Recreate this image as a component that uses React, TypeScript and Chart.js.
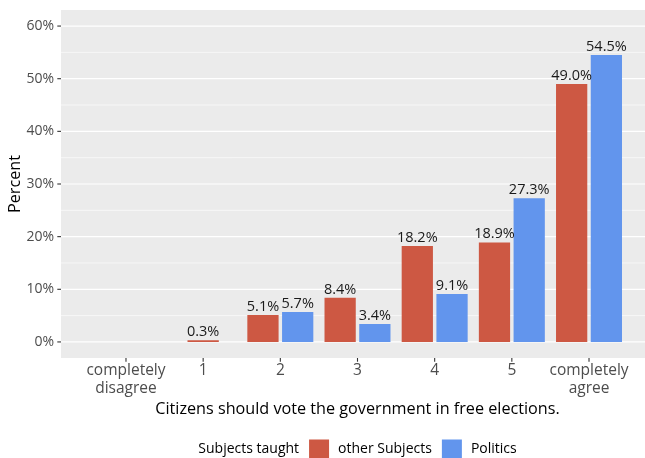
import React, { useEffect, useRef } from 'react';
import { Chart, registerables } from 'chart.js';

Chart.register(...registerables);

// ---- data ----
const categories: (string | string[])[] = [
  ['completely', 'disagree'],
  '1',
  '2',
  '3',
  '4',
  '5',
  ['completely', 'agree'],
];
const otherSubjects: (number | null)[] = [null, 0.3, 5.1, 8.4, 18.2, 18.9, 49.0];
const politics: (number | null)[] = [null, null, 5.7, 3.4, 9.1, 27.3, 54.5];
const seriesNames = ['other Subjects', 'Politics'];
const seriesColors = ['rgb(205,88,67)', 'rgb(98,149,237)'];
const yMajorTicks = [0, 10, 20, 30, 40, 50, 60];
const yMinorTicks = [5, 15, 25, 35, 45, 55];
const legendTitle = 'Subjects taught';
const xTitle = 'Citizens should vote the government in free elections.';
const yTitle = 'Percent';

const FONT = '"Open Sans", "DejaVu Sans", sans-serif';
const PANEL_LEFT = 61;
const PANEL_BG = '#EBEBEB';

const decorPlugin = {
  id: 'ggDecor',
  beforeDraw(chart: any) {
    const { ctx, chartArea, scales } = chart;
    const y = scales.y;
    ctx.save();
    ctx.fillStyle = PANEL_BG;
    ctx.fillRect(PANEL_LEFT, chartArea.top, chart.width - PANEL_LEFT, chartArea.bottom - chartArea.top);
    ctx.strokeStyle = '#FFFFFF';
    ctx.lineWidth = 0.6;
    for (const v of yMinorTicks) {
      const py = y.getPixelForValue(v);
      ctx.beginPath();
      ctx.moveTo(PANEL_LEFT, py);
      ctx.lineTo(chart.width, py);
      ctx.stroke();
    }
    ctx.lineWidth = 1.2;
    for (const v of yMajorTicks) {
      const py = y.getPixelForValue(v);
      ctx.beginPath();
      ctx.moveTo(PANEL_LEFT, py);
      ctx.lineTo(chart.width, py);
      ctx.stroke();
    }
    ctx.restore();
  },
  afterDatasetsDraw(chart: any) {
    const { ctx } = chart;
    ctx.save();
    ctx.font = `14.5px ${FONT}`;
    ctx.fillStyle = '#1A1A1A';
    ctx.textAlign = 'center';
    ctx.textBaseline = 'alphabetic';
    chart.data.datasets.forEach((ds: any, di: number) => {
      const meta = chart.getDatasetMeta(di);
      meta.data.forEach((el: any, i: number) => {
        const v = ds.data[i];
        if (v === null || v === undefined) return;
        ctx.fillText(v.toFixed(1) + '%', el.x, el.y - 4);
      });
    });
    ctx.restore();
  },
  afterDraw(chart: any) {
    const { ctx, chartArea, scales } = chart;
    const x = scales.x;
    const y = scales.y;
    ctx.save();
    // tick marks
    ctx.strokeStyle = '#333333';
    ctx.lineWidth = 1.1;
    for (const v of yMajorTicks) {
      const py = y.getPixelForValue(v);
      ctx.beginPath();
      ctx.moveTo(PANEL_LEFT - 3.7, py);
      ctx.lineTo(PANEL_LEFT, py);
      ctx.stroke();
    }
    categories.forEach((_, i) => {
      const px = x.getPixelForValue(i);
      ctx.beginPath();
      ctx.moveTo(px, chartArea.bottom);
      ctx.lineTo(px, chartArea.bottom + 3.7);
      ctx.stroke();
    });

    const centerX = (x.getPixelForValue(0) + x.getPixelForValue(categories.length - 1)) / 2;

    // x title
    ctx.fillStyle = '#000000';
    ctx.font = `16.2px ${FONT}`;
    ctx.textAlign = 'center';
    ctx.textBaseline = 'middle';
    ctx.fillText(xTitle, centerX, 409);

    // y title
    ctx.save();
    ctx.translate(15, (chartArea.top + chartArea.bottom) / 2);
    ctx.rotate(-Math.PI / 2);
    ctx.fillText(yTitle, 0, 0);
    ctx.restore();

    // legend
    ctx.font = `14px ${FONT}`;
    ctx.textAlign = 'left';
    ctx.textBaseline = 'middle';
    const box = 20;
    const gapTitle = 10;
    const gapBoxText = 9;
    const gapItem = 10;
    const wTitle = ctx.measureText(legendTitle).width;
    const wItems = seriesNames.map((n) => ctx.measureText(n).width);
    let total = wTitle;
    wItems.forEach((w, i) => {
      total += (i === 0 ? gapTitle : gapItem) + box + gapBoxText + w;
    });
    let lx = centerX - total / 2;
    const ly = 449.5;
    ctx.fillStyle = '#000000';
    ctx.fillText(legendTitle, lx, ly);
    lx += wTitle;
    seriesNames.forEach((n, i) => {
      lx += i === 0 ? gapTitle : gapItem;
      ctx.fillStyle = seriesColors[i];
      ctx.fillRect(lx, ly - box / 2, box, box);
      lx += box + gapBoxText;
      ctx.fillStyle = '#000000';
      ctx.fillText(n, lx, ly);
      lx += wItems[i];
    });
    ctx.restore();
  },
};

export default function App() {
  const canvasRef = useRef<HTMLCanvasElement | null>(null);

  useEffect(() => {
    const canvas = canvasRef.current;
    if (!canvas) return;
    const chart = new Chart(canvas, {
      type: 'bar',
      data: {
        labels: categories as any,
        datasets: [
          {
            label: seriesNames[0],
            data: otherSubjects as any,
            backgroundColor: seriesColors[0],
            borderWidth: 0,
          },
          {
            label: seriesNames[1],
            data: politics as any,
            backgroundColor: seriesColors[1],
            borderWidth: 0,
          },
        ],
      },
      options: {
        responsive: false,
        animation: false,
        devicePixelRatio: 1,
        layout: { padding: { left: 0, right: 17.4, top: 10, bottom: 0 } },
        datasets: {
          bar: {
            categoryPercentage: 0.9,
            barPercentage: 0.9,
            skipNull: true,
            maxBarThickness: 31.3,
          },
        },
        plugins: {
          legend: { display: false },
          tooltip: { enabled: false },
        },
        scales: {
          x: {
            type: 'category',
            offset: true,
            grid: { display: false, drawTicks: false, tickLength: 0 },
            border: { display: false },
            ticks: {
              color: '#4D4D4D',
              font: { family: FONT, size: 15.5, lineHeight: 1.15 },
              padding: 4,
              maxRotation: 0,
              autoSkip: false,
            },
            afterFit: (s: any) => {
              s.height = 100;
              s.paddingLeft = 0;
              s.paddingRight = 0;
            },
          },
          y: {
            type: 'linear',
            min: -3.05,
            max: 63.05,
            grid: { display: false, drawTicks: false, tickLength: 0 },
            border: { display: false },
            ticks: {
              color: '#4D4D4D',
              font: { family: FONT, size: 14 },
              padding: 33.4,
              callback: (v: any) => `${v}%`,
            },
            afterBuildTicks: (s: any) => {
              s.ticks = yMajorTicks.map((v) => ({ value: v }));
            },
            afterFit: (s: any) => {
              s.width = 87.4;
              s.paddingTop = 0;
              s.paddingBottom = 0;
            },
          },
        },
      },
      plugins: [decorPlugin],
    });
    return () => chart.destroy();
  }, []);

  return (
    <div
      style={{
        position: 'absolute',
        left: 0,
        top: 0,
        width: 645,
        height: 458,
        overflow: 'hidden',
        background: '#FFFFFF',
      }}
    >
      <canvas ref={canvasRef} width={645} height={458} style={{ width: 645, height: 458, display: 'block' }} />
    </div>
  );
}
